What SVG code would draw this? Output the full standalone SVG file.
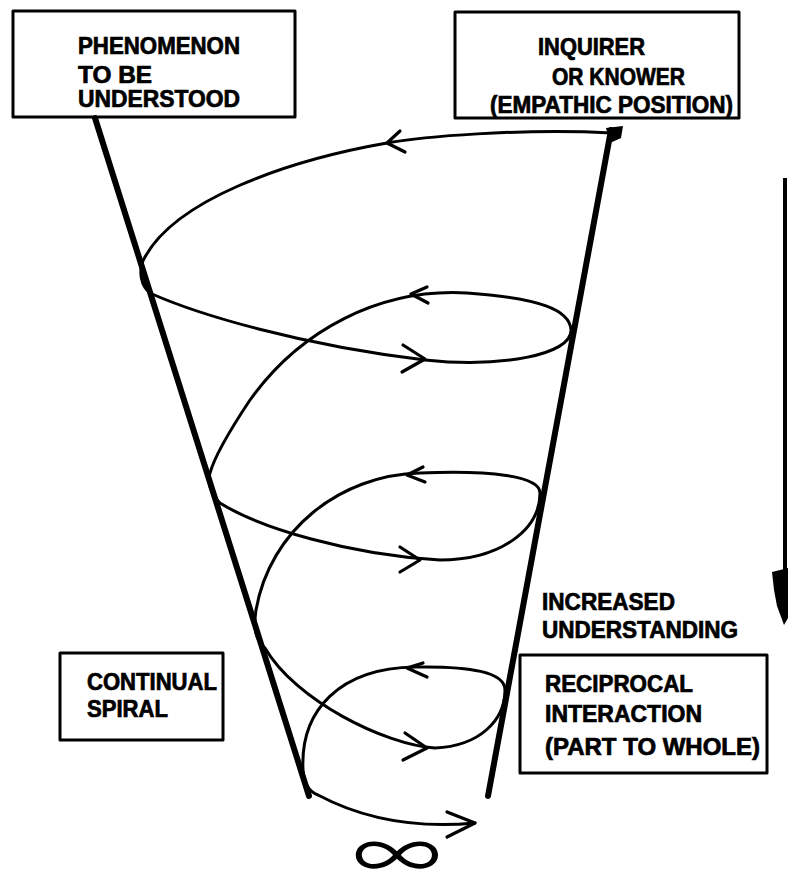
<svg xmlns="http://www.w3.org/2000/svg" width="789" height="875" viewBox="0 0 789 875">
<style>
.box{fill:none;stroke:#000;stroke-width:3;stroke-linejoin:round}
.t{font-family:"Liberation Sans",Arial,Helvetica,sans-serif;font-weight:bold;font-size:23px;fill:#000;stroke:#000;stroke-width:0.7}
.cone{fill:none;stroke:#000;stroke-width:6;stroke-linecap:round}
.spiral{fill:none;stroke:#000;stroke-width:3;stroke-linecap:round;stroke-linejoin:round}
.ah{fill:none;stroke:#000;stroke-width:3.2;stroke-linecap:round;stroke-linejoin:round}
</style>
<rect width="789" height="875" fill="#fff"/>
<g id="node-phenomenon">
<rect class="box" x="13" y="11" width="282" height="106"/>
<text class="t" x="78" y="54" textLength="162" lengthAdjust="spacingAndGlyphs">PHENOMENON</text>
<text class="t" x="78" y="83" textLength="74" lengthAdjust="spacingAndGlyphs">TO  BE</text>
<text class="t" x="78" y="107" textLength="162" lengthAdjust="spacingAndGlyphs">UNDERSTOOD</text>
</g>
<g id="node-inquirer">
<rect class="box" x="455" y="12" width="284" height="106"/>
<text class="t" x="538" y="55" textLength="107" lengthAdjust="spacingAndGlyphs">INQUIRER</text>
<text class="t" x="552" y="85" textLength="133" lengthAdjust="spacingAndGlyphs">OR  KNOWER</text>
<text class="t" x="490" y="113" textLength="243" lengthAdjust="spacingAndGlyphs">(EMPATHIC POSITION)</text>
</g>
<g id="node-continual">
<rect class="box" x="60" y="653" width="163" height="87"/>
<text class="t" x="87" y="690" textLength="130" lengthAdjust="spacingAndGlyphs">CONTINUAL</text>
<text class="t" x="87" y="717" textLength="81" lengthAdjust="spacingAndGlyphs">SPIRAL</text>
</g>
<g id="node-reciprocal">
<rect class="box" x="520" y="655" width="247" height="118"/>
<text class="t" x="545" y="692" textLength="148" lengthAdjust="spacingAndGlyphs">RECIPROCAL</text>
<text class="t" x="545" y="722" textLength="157" lengthAdjust="spacingAndGlyphs">INTERACTION</text>
<text class="t" x="545" y="755" textLength="215" lengthAdjust="spacingAndGlyphs">(PART  TO  WHOLE)</text>
</g>
<g id="label-increased">
<text class="t" x="542" y="610" textLength="133" lengthAdjust="spacingAndGlyphs">INCREASED</text>
<text class="t" x="542" y="638" textLength="196" lengthAdjust="spacingAndGlyphs">UNDERSTANDING</text>
</g>
<g id="label-infinity">
<text x="0" y="0" transform="translate(397,880) scale(1.32,1)" text-anchor="middle" style="font-family:'Noto Sans CJK JP',sans-serif;font-weight:400;font-size:67px;fill:#000">∞</text>
</g>
<g id="connectors">
<line class="cone" x1="95" y1="118" x2="309" y2="796"/>
<line class="cone" x1="611" y1="130" x2="488" y2="796"/>
<polygon points="606,128 623,126 621,138 610,143" fill="#000"/>
<path class="spiral" d="M612,133 C520,128 420,137 387,143 C290,160 170,200 142,263 C138,280 145,290 152,294 C200,315 300,345 425,360 C500,368 572,355 571,330 C570,310 540,298 467,293 C380,288 300,330 250,400 C230,430 215,455 210,473 C207,485 212,495 220,503 C260,528 350,555 440,560 C500,560 540,530 540,493 C540,476 490,470 420,473 C340,475 270,530 256,610 C253,630 256,640 265,648 C295,700 385,745 435,748 C480,746 505,720 505,690 C505,672 470,666 415,667 C340,668 300,710 303,770 C304,785 310,792 318,795 C350,812 400,830 475,823"/>
<path class="ah" d="M400,131 L387,143 L405,152"/>
<path class="ah" d="M427,287 L411,294 L428,303"/>
<path class="ah" d="M403,345 L425,359 L402,372"/>
<path class="ah" d="M423,467 L407,475 L425,482"/>
<path class="ah" d="M400,547 L420,560 L400,572"/>
<path class="ah" d="M423,663 L407,668 L427,677"/>
<path class="ah" d="M405,733 L427,748 L403,760"/>
<path class="ah" d="M447,812 L475,823 L447,837"/>
<line x1="785" y1="178" x2="785" y2="574" stroke="#000" stroke-width="4"/>
<polygon points="772,572 788,568 788,618 784,625 777,606 774,590" fill="#000"/>
</g>
</svg>
